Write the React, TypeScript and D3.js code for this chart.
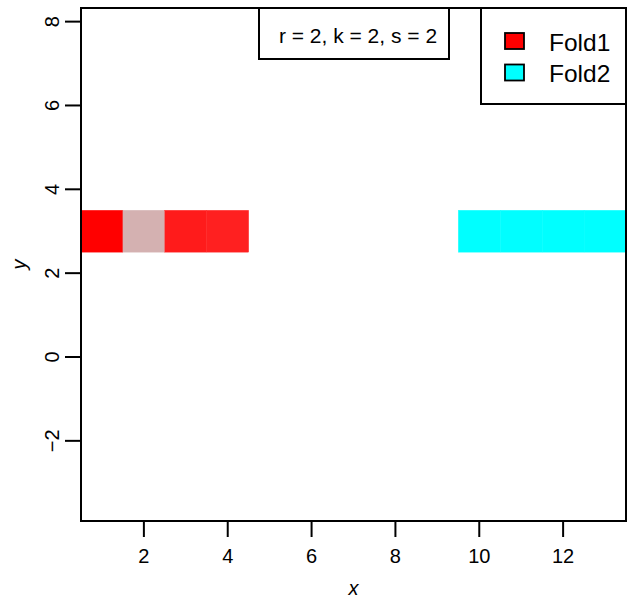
import React from "react";
import * as d3 from "d3";

const foldNames = ["Fold1", "Fold2"];
const foldColors = ["#FF0000", "#00FFFF"];
const tileX = [1, 2, 3, 4, 10, 11, 12, 13];
const tileY = [3, 3, 3, 3, 3, 3, 3, 3];
const tileFold = [0, 0, 0, 0, 1, 1, 1, 1];
const tileColors = ["#FF0000", "#D4B1B1", "#FF1B1B", "#FF2020", "#00FFFF", "#01FEFF", "#00FFFF", "#00FFFF"];
const xTicks = [2, 4, 6, 8, 10, 12];
const yTicks = [-2, 0, 2, 4, 6, 8];
const annotation = "r = 2, k = 2, s = 2";

const W = 627, H = 599;
const left = 81, right = 626, top = 8, bottom = 521;
const FONT = "'Liberation Sans', Arial, Helvetica, sans-serif";

export default function App() {
  const x = d3.scaleLinear().domain([0.5, 13.5]).range([left, right]);
  const y = d3.scaleLinear().domain([-3.912, 8.325]).range([bottom, top]);
  const tick = 16;
  return (
    <svg width={W} height={H} style={{ position: "absolute", left: 0, top: 0, background: "#fff" }} fontFamily={FONT}>
      {tileX.map((tx, i) => (
        <rect key={i} x={x(tx - 0.5)} y={y(tileY[i] + 0.5)} width={x(tx + 0.5) - x(tx - 0.5)}
          height={y(tileY[i] - 0.5) - y(tileY[i] + 0.5)} fill={tileColors[i]} stroke={tileColors[i]} strokeWidth={0.3} data-fold={tileFold[i]} />
      ))}
      <rect x={left} y={top} width={right - left} height={bottom - top} fill="none" stroke="#000" strokeWidth={2} />
      {xTicks.map((t) => (
        <g key={t}>
          <line x1={x(t)} x2={x(t)} y1={bottom} y2={bottom + tick} stroke="#000" strokeWidth={2} />
          <text x={x(t)} y={556} textAnchor="middle" dominantBaseline="central" fontSize={20}>{t}</text>
        </g>
      ))}
      {yTicks.map((t) => (
        <g key={t}>
          <line x1={left - tick} x2={left} y1={y(t)} y2={y(t)} stroke="#000" strokeWidth={2} />
          <text transform={`translate(${51.5},${y(t)}) rotate(-90)`} textAnchor="middle" dominantBaseline="central" fontSize={20}>
            {t < 0 ? "\u2212" + Math.abs(t) : t}
          </text>
        </g>
      ))}
      <text x={(left + right) / 2} y={588} textAnchor="middle" dominantBaseline="central" fontSize={20} fontStyle="italic">x</text>
      <text transform={`translate(${18.5},${(top + bottom) / 2}) rotate(-90)`} textAnchor="middle" dominantBaseline="central" fontSize={20} fontStyle="italic">y</text>

      <rect x={259} y={top} width={190} height={51} fill="#fff" stroke="#000" strokeWidth={2} />
      <text x={358} y={35} textAnchor="middle" dominantBaseline="central" fontSize={21}>{annotation}</text>

      <rect x={481} y={top} width={right - 481} height={96} fill="#fff" stroke="#000" strokeWidth={2} />
      {foldNames.map((n, i) => (
        <g key={n}>
          <rect x={505} y={33 + i * 31.5} width={19} height={16} fill={foldColors[i]} stroke="#000" strokeWidth={1.8} />
          <text x={549} y={42 + i * 31.5} dominantBaseline="central" fontSize={24.5}>{n}</text>
        </g>
      ))}
    </svg>
  );
}
